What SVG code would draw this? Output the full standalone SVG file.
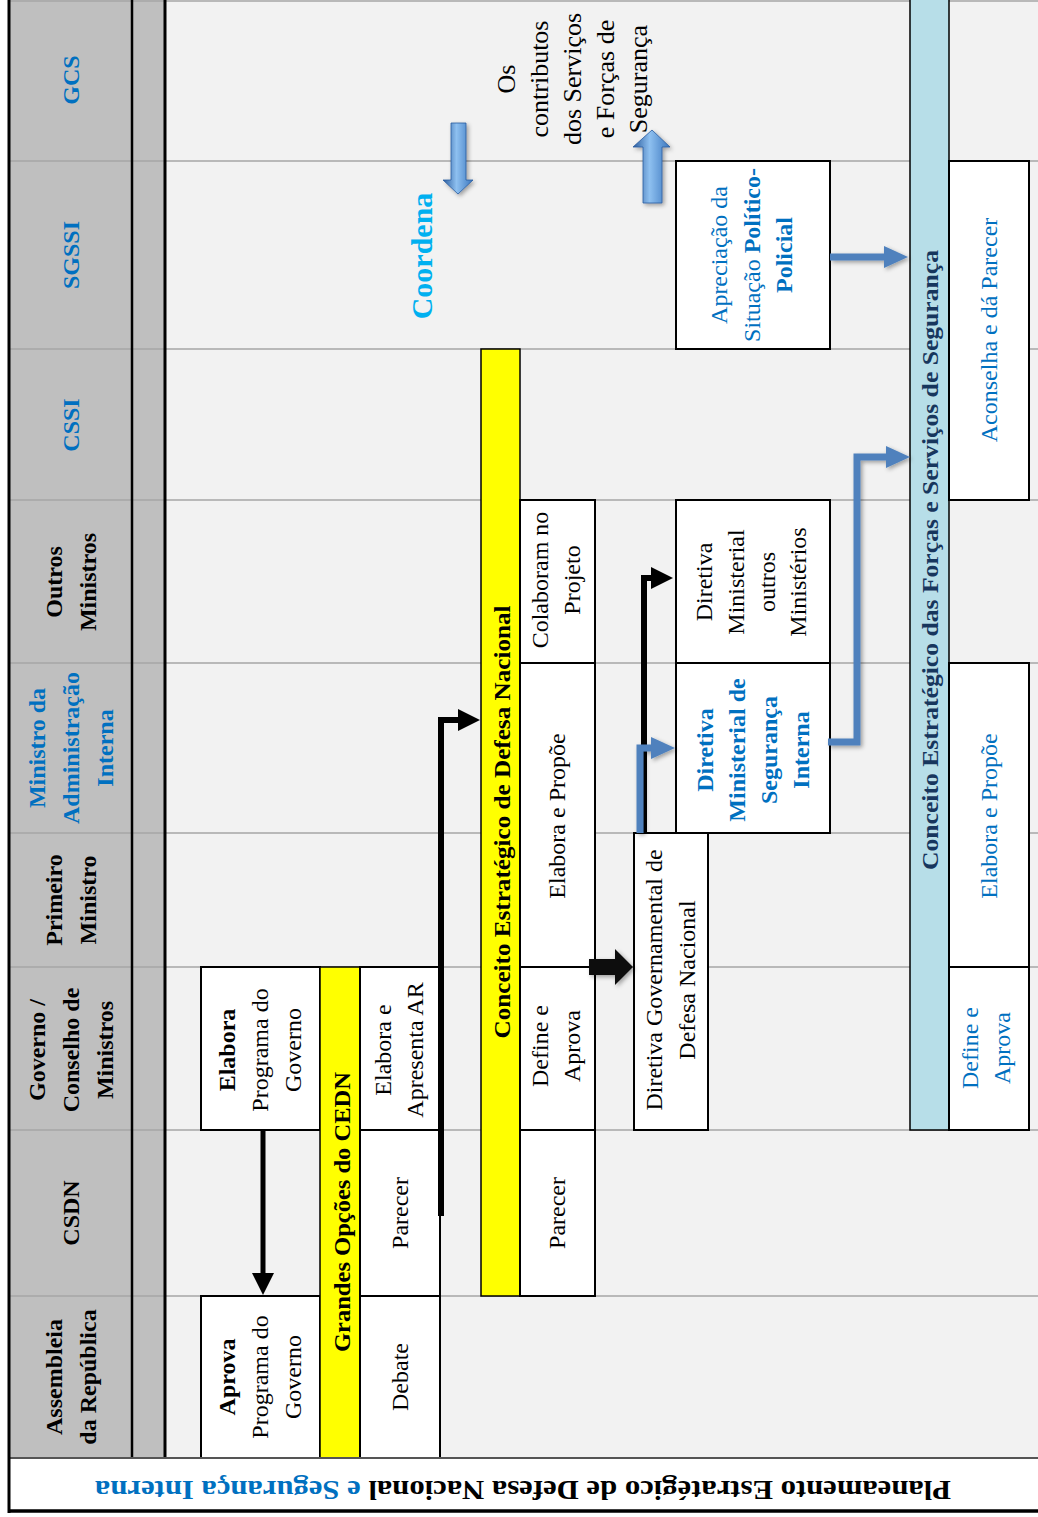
<svg xmlns="http://www.w3.org/2000/svg" width="1038" height="1517" viewBox="0 0 1038 1517">
<style>
.t{font-family:"Liberation Serif","Times New Roman",serif;font-size:24px;fill:#000}
.b{font-weight:bold}
.bl{fill:#0070C0}
.box{fill:#fff;stroke:#000;stroke-width:2}
.lane{stroke:#A6A6A6;stroke-width:1.6}
.ylw{fill:#FFFF00;stroke:#000;stroke-width:1.5}
.cyn{fill:#B7DEE8;stroke:#000;stroke-width:1.5}
.ak{fill:none;stroke:#000;stroke-width:6}
.ab{fill:none;stroke:#4F81BD;stroke-width:7}
</style>
<defs>
<marker id="mk" viewBox="0 0 22 22" refX="0" refY="11" markerWidth="22" markerHeight="22" orient="auto" markerUnits="userSpaceOnUse"><path d="M0,0 L22,11 L0,22 z" fill="#000"/></marker>
<marker id="mb" viewBox="0 0 24 22" refX="0" refY="11" markerWidth="24" markerHeight="22" orient="auto" markerUnits="userSpaceOnUse"><path d="M0,0 L24,11 L0,22 z" fill="#4F81BD"/></marker>
<filter id="sh" x="-30%" y="-30%" width="160%" height="160%"><feDropShadow dx="2" dy="2" stdDeviation="2" flood-color="#000" flood-opacity="0.35"/></filter>
<linearGradient id="g3d" x1="0" y1="0" x2="1" y2="0"><stop offset="0" stop-color="#2A5C9E"/><stop offset="0.45" stop-color="#8EC0F0"/><stop offset="1" stop-color="#3A76BE"/></linearGradient>
</defs>
<rect x="0" y="0" width="1038" height="1517" fill="#fff"/>
<rect x="165" y="0" width="873" height="1458" fill="#F2F2F2"/>
<rect x="10" y="0" width="155" height="1458" fill="#BFBFBF"/>
<g id="lanes">
<line class="lane" x1="10" y1="1" x2="1038" y2="1"/>
<line class="lane" x1="10" y1="161" x2="1038" y2="161"/>
<line class="lane" x1="10" y1="349" x2="1038" y2="349"/>
<line class="lane" x1="10" y1="500" x2="1038" y2="500"/>
<line class="lane" x1="10" y1="663" x2="1038" y2="663"/>
<line class="lane" x1="10" y1="833" x2="1038" y2="833"/>
<line class="lane" x1="10" y1="967" x2="1038" y2="967"/>
<line class="lane" x1="10" y1="1130" x2="1038" y2="1130"/>
<line class="lane" x1="10" y1="1296" x2="1038" y2="1296"/>
<line x1="132" y1="0" x2="132" y2="1458" stroke="#000" stroke-width="2.5"/>
<line x1="165" y1="0" x2="165" y2="1458" stroke="#000" stroke-width="3"/>
</g>
<g id="headers">
<g id="h-gcs"><text class="t b bl" transform="translate(79,80) rotate(-90)" text-anchor="middle">GCS</text></g>
<g id="h-sgssi"><text class="t b bl" transform="translate(79,255) rotate(-90)" text-anchor="middle">SGSSI</text></g>
<g id="h-cssi"><text class="t b bl" transform="translate(79,425) rotate(-90)" text-anchor="middle">CSSI</text></g>
<g id="h-outros"><text class="t b" transform="translate(62,582) rotate(-90)" text-anchor="middle"><tspan x="0" y="0">Outros</tspan><tspan x="0" y="34">Ministros</tspan></text></g>
<g id="h-mai"><text class="t b bl" transform="translate(45,748) rotate(-90)" text-anchor="middle"><tspan x="0" y="0">Ministro da</tspan><tspan x="0" y="34">Administração</tspan><tspan x="0" y="68">Interna</tspan></text></g>
<g id="h-pm"><text class="t b" transform="translate(62,900) rotate(-90)" text-anchor="middle"><tspan x="0" y="0">Primeiro</tspan><tspan x="0" y="34">Ministro</tspan></text></g>
<g id="h-gov"><text class="t b" transform="translate(45,1050) rotate(-90)" text-anchor="middle"><tspan x="0" y="0">Governo /</tspan><tspan x="0" y="34">Conselho de</tspan><tspan x="0" y="68">Ministros</tspan></text></g>
<g id="h-csdn"><text class="t b" transform="translate(79,1213) rotate(-90)" text-anchor="middle">CSDN</text></g>
<g id="h-ar"><text class="t b" transform="translate(62,1377) rotate(-90)" text-anchor="middle"><tspan x="0" y="0">Assembleia</tspan><tspan x="0" y="34">da República</tspan></text></g>
</g>
<g id="n-aprova"><rect class="box" x="201" y="1296" width="119" height="162"/><text class="t" transform="translate(235,1377) rotate(-90)" text-anchor="middle"><tspan x="0" y="0" class="b">Aprova</tspan><tspan x="0" y="33">Programa do</tspan><tspan x="0" y="66">Governo</tspan></text></g>
<g id="n-elabora"><rect class="box" x="201" y="967" width="119" height="163"/><text class="t" transform="translate(235,1050) rotate(-90)" text-anchor="middle"><tspan x="0" y="0" class="b">Elabora</tspan><tspan x="0" y="33">Programa do</tspan><tspan x="0" y="66">Governo</tspan></text></g>
<g id="n-gocedn"><rect class="ylw" x="320" y="967" width="40" height="491"/><text class="t b" transform="translate(350,1212) rotate(-90)" text-anchor="middle" textLength="280" lengthAdjust="spacingAndGlyphs">Grandes Opções do CEDN</text></g>
<g id="n-apresenta"><rect class="box" x="360" y="967" width="80" height="163"/><text class="t" transform="translate(391,1050) rotate(-90)" text-anchor="middle"><tspan x="0" y="0">Elabora e</tspan><tspan x="0" y="32">Apresenta AR</tspan></text></g>
<g id="n-parecer1"><rect class="box" x="360" y="1130" width="80" height="166"/><text class="t" transform="translate(408,1213) rotate(-90)" text-anchor="middle">Parecer</text></g>
<g id="n-debate"><rect class="box" x="360" y="1296" width="80" height="162"/><text class="t" transform="translate(408,1377) rotate(-90)" text-anchor="middle">Debate</text></g>
<g id="n-cedn"><rect class="ylw" x="481" y="349" width="39" height="947"/><text class="t b" transform="translate(510,822) rotate(-90)" text-anchor="middle" textLength="433" lengthAdjust="spacingAndGlyphs">Conceito Estratégico de Defesa Nacional</text></g>
<g id="n-parecer2"><rect class="box" x="520" y="1130" width="75" height="166"/><text class="t" transform="translate(565,1213) rotate(-90)" text-anchor="middle">Parecer</text></g>
<g id="n-define1"><rect class="box" x="520" y="967" width="75" height="163"/><text class="t" transform="translate(548,1046) rotate(-90)" text-anchor="middle"><tspan x="0" y="0">Define e</tspan><tspan x="0" y="32">Aprova</tspan></text></g>
<g id="n-elaborapropoe1"><rect class="box" x="520" y="663" width="75" height="304"/><text class="t" transform="translate(565,816) rotate(-90)" text-anchor="middle">Elabora e Propõe</text></g>
<g id="n-colaboram"><rect class="box" x="520" y="500" width="75" height="163"/><text class="t" transform="translate(548,580) rotate(-90)" text-anchor="middle"><tspan x="0" y="0">Colaboram no</tspan><tspan x="0" y="32">Projeto</tspan></text></g>
<g id="n-dgdn"><rect class="box" x="634" y="833" width="74" height="297"/><text class="t" transform="translate(662,980) rotate(-90)" text-anchor="middle"><tspan x="0" y="0">Diretiva Governamental de</tspan><tspan x="0" y="33">Defesa Nacional</tspan></text></g>
<g id="n-dmsi"><rect class="box" x="676" y="663" width="154" height="170"/><text class="t b bl" transform="translate(713,750) rotate(-90)" text-anchor="middle"><tspan x="0" y="0">Diretiva</tspan><tspan x="0" y="32">Ministerial de</tspan><tspan x="0" y="64">Segurança</tspan><tspan x="0" y="96">Interna</tspan></text></g>
<g id="n-dmom"><rect class="box" x="676" y="500" width="154" height="163"/><text class="t" transform="translate(712,582) rotate(-90)" text-anchor="middle"><tspan x="0" y="0">Diretiva</tspan><tspan x="0" y="32">Ministerial</tspan><tspan x="0" y="63">outros</tspan><tspan x="0" y="94">Ministérios</tspan></text></g>
<g id="n-apreciacao"><rect class="box" x="676" y="161" width="154" height="188"/><text class="t bl" transform="translate(727,255) rotate(-90)" text-anchor="middle"><tspan x="0" y="0">Apreciação da</tspan><tspan x="0" y="33">Situação <tspan class="b">Político-</tspan></tspan><tspan x="0" y="65" class="b">Policial</tspan></text></g>
<g id="n-cefss"><rect class="cyn" x="910" y="-2" width="39" height="1132"/><text class="t b" style="fill:#17365D" transform="translate(938,560) rotate(-90)" text-anchor="middle" textLength="620" lengthAdjust="spacingAndGlyphs">Conceito Estratégico das Forças e Serviços de Segurança</text></g>
<g id="n-aconselha"><rect class="box" x="949" y="161" width="80" height="339"/><text class="t bl" transform="translate(997,330) rotate(-90)" text-anchor="middle">Aconselha e dá Parecer</text></g>
<g id="n-elaborapropoe2"><rect class="box" x="949" y="663" width="80" height="304"/><text class="t bl" transform="translate(997,816) rotate(-90)" text-anchor="middle">Elabora e Propõe</text></g>
<g id="n-define2"><rect class="box" x="949" y="967" width="80" height="163"/><text class="t bl" transform="translate(978,1048) rotate(-90)" text-anchor="middle"><tspan x="0" y="0">Define e</tspan><tspan x="0" y="32">Aprova</tspan></text></g>
<g id="n-coordena"><text class="t b" style="fill:#00B0F0;font-size:30px" transform="translate(432,256) rotate(-90)" text-anchor="middle">Coordena</text></g>
<g id="n-contributos"><text class="t" style="font-size:26px" transform="translate(515,79) rotate(-90)" text-anchor="middle"><tspan x="0" y="0">Os</tspan><tspan x="0" y="33">contributos</tspan><tspan x="0" y="66">dos Serviços</tspan><tspan x="0" y="99">e Forças de</tspan><tspan x="0" y="132">Segurança</tspan></text></g>
<g id="connectors">
<path class="ak" style="stroke-width:5" d="M263,1130 V1273" marker-end="url(#mk)"/>
<path class="ak" d="M441,1216 V720 H458" marker-end="url(#mk)"/>
<path class="ak" d="M644,833 V578 H651" marker-end="url(#mk)"/>
<g filter="url(#sh)">
<path class="ab" d="M640,833 V748 H651" marker-end="url(#mb)"/>
<path class="ab" d="M828,742 H857 V457 H886" marker-end="url(#mb)"/>
<path class="ab" d="M830,257 H884" marker-end="url(#mb)"/>
</g>
<polygon points="589,959 615,959 615,949 633,967 615,985 615,975 589,975" fill="#111" filter="url(#sh)"/>
<polygon points="451,123 466,123 466,180 473,180 458,194 443,180 451,180" fill="url(#g3d)" stroke="#2A5C9E" stroke-width="0.8" filter="url(#sh)"/>
<polygon points="643,203 662,203 662,147 670,147 652,130 633,147 643,147" fill="url(#g3d)" stroke="#2A5C9E" stroke-width="0.8" filter="url(#sh)"/>
</g>
<g id="title">
<rect x="10" y="1458" width="1028" height="53" fill="#fff"/>
<line x1="10" y1="1458" x2="1038" y2="1458" stroke="#555" stroke-width="2"/>
<line x1="8" y1="1511" x2="1038" y2="1511" stroke="#000" stroke-width="3.5"/>
<line x1="9" y1="0" x2="9" y2="1513" stroke="#000" stroke-width="3"/>
<text class="t b" style="font-size:28px" transform="translate(523,1481) rotate(180)" text-anchor="middle" textLength="856" lengthAdjust="spacingAndGlyphs">Planeamento Estratégico de Defesa Nacional <tspan class="bl">e Segurança Interna</tspan></text>
</g>
</svg>
